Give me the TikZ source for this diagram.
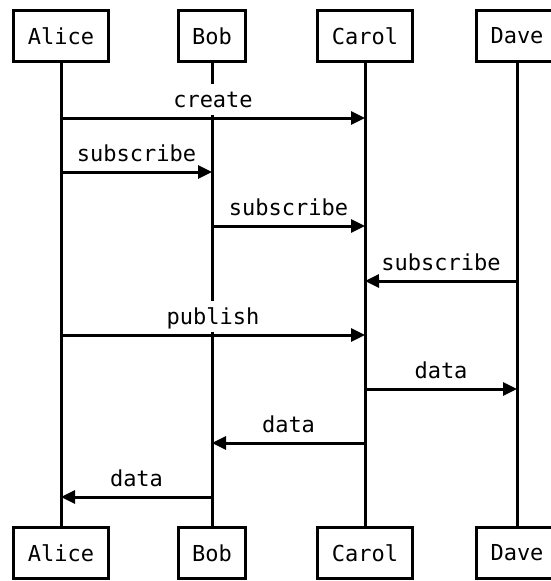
\documentclass[tikz,border=0pt]{standalone}
\usepackage{fontspec}
\setmonofont{DejaVu Sans Mono}
\usetikzlibrary{arrows.meta}
\tikzset{
  actor/.style={draw, line width=3pt, fill=white, minimum height=51pt, inner xsep=14pt,
    font=\fontsize{22}{26}\selectfont\ttfamily},
  life/.style={line width=3pt},
  msg/.style={line width=3pt, -{Triangle[length=14pt,width=13pt]}},
  lbl/.style={anchor=south, yshift=1.5pt, fill=white, inner xsep=2pt, inner ysep=2pt,
    text height=21pt, text depth=6pt, font=\fontsize{22}{26}\selectfont\ttfamily}
}
\begin{document}
\begin{tikzpicture}[x=1pt,y=-1pt]
\useasboundingbox (0,0) rectangle (550,581);
% actors, top and bottom
\node[actor] (alice) at (61,36) {Alice};
\node[actor] (bob) at (212,36) {Bob};
\node[actor] (carol) at (365,36) {Carol};
\node[actor] (dave) at (517,36) {Dave};
\node[actor] (aliceb) at (61,553) {Alice};
\node[actor] (bobb) at (212,553) {Bob};
\node[actor] (carolb) at (365,553) {Carol};
\node[actor] (daveb) at (517,553) {Dave};
% lifelines
\draw[life] (alice) -- (aliceb);
\draw[life] (bob) -- (bobb);
\draw[life] (carol) -- (carolb);
\draw[life] (dave) -- (daveb);
% messages
\draw[msg] (alice |- 0,118) -- node[lbl] {create} (carol |- 0,118);
\draw[msg] (alice |- 0,172) -- node[lbl] {subscribe} (bob |- 0,172);
\draw[msg] (bob |- 0,226) -- node[lbl] {subscribe} (carol |- 0,226);
\draw[msg] (dave |- 0,281) -- node[lbl] {subscribe} (carol |- 0,281);
\draw[msg] (alice |- 0,335) -- node[lbl] {publish} (carol |- 0,335);
\draw[msg] (carol |- 0,389) -- node[lbl] {data} (dave |- 0,389);
\draw[msg] (carol |- 0,443) -- node[lbl] {data} (bob |- 0,443);
\draw[msg] (bob |- 0,497) -- node[lbl] {data} (alice |- 0,497);
\end{tikzpicture}
\end{document}
